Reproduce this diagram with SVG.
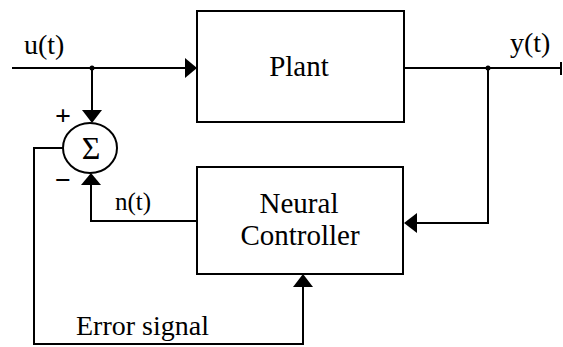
<svg xmlns="http://www.w3.org/2000/svg" width="563" height="347" viewBox="0 0 563 347">
<style>
.box{fill:#fff;stroke:#000;stroke-width:2}
.ln{fill:none;stroke:#000;stroke-width:2}
.ah{fill:#000}
svg g text.t{font-family:"Liberation Serif","Times New Roman",serif !important;fill:#000}
.lbl{font-size:29px;text-anchor:middle}
.sig{font-size:28px}
</style>
<rect width="563" height="347" fill="#fff"/>
<g id="connectors">
<path class="ln" d="M12,68 H190"/>
<path class="ln" d="M404,68 H561 M561,62 V75"/>
<path class="ln" d="M92,68 V112"/>
<path class="ln" d="M488,68 V223 H410"/>
<path class="ln" d="M197,221 H91 V182"/>
<path class="ln" d="M63,148 H34 V344 H303 V284"/>
<polygon class="ah" points="197,68 185,58 185,78"/>
<polygon class="ah" points="92,123 82,110 102,110"/>
<polygon class="ah" points="404,223 417,213 417,233"/>
<polygon class="ah" points="91,173 81,185 101,185"/>
<polygon class="ah" points="303,274 293,287 313,287"/>
<circle class="ah" cx="92" cy="68" r="2.5"/>
<circle class="ah" cx="488" cy="68" r="2.5"/>
<text class="t sig" style="font-family:'Liberation Serif',serif" x="24" y="54">u(t)</text>
<text class="t sig" style="font-family:'Liberation Serif',serif" x="510" y="52">y(t)</text>
<text class="t sig" style="font-family:'Liberation Serif',serif;font-size:25px" x="115" y="210">n(t)</text>
<text class="t sig" style="font-family:'Liberation Serif',serif" x="76" y="335">Error signal</text>
</g>
<g id="plant">
<rect class="box" x="197" y="11" width="207" height="111"/>
<text class="t lbl" style="font-family:'Liberation Serif',serif" x="299" y="76">Plant</text>
</g>
<g id="neural-controller">
<rect class="box" x="197" y="167" width="206" height="107"/>
<text class="t lbl" style="font-family:'Liberation Serif',serif" x="299" y="213">Neural</text>
<text class="t lbl" style="font-family:'Liberation Serif',serif" x="300" y="245">Controller</text>
</g>
<g id="summer">
<ellipse cx="90" cy="148" rx="27" ry="25" fill="#fff" stroke="#000" stroke-width="2"/>
<text class="t" style="font-family:'Liberation Serif',serif;font-size:32px" x="91" y="159" text-anchor="middle">Σ</text>
<text class="t" style="font-family:'Liberation Serif',serif;font-size:28px;font-weight:bold" x="63" y="125" text-anchor="middle">+</text>
<text class="t" style="font-family:'Liberation Serif',serif;font-size:28px;font-weight:bold" x="63" y="189" text-anchor="middle">−</text>
</g>
</svg>
